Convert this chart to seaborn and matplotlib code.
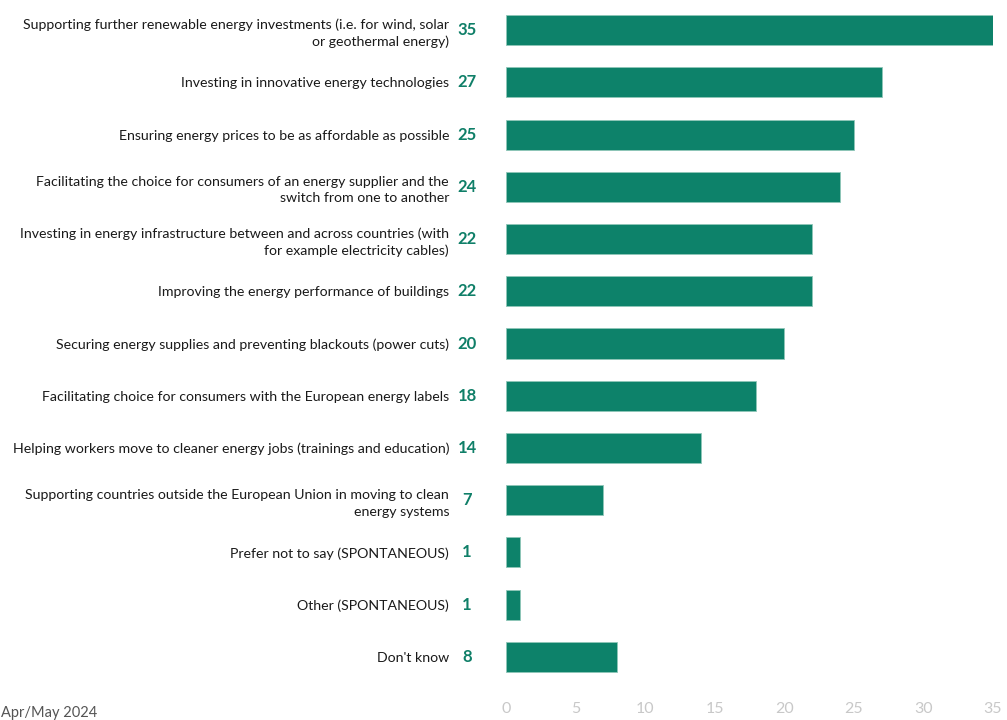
import matplotlib
matplotlib.use("Agg")
import matplotlib.pyplot as plt
import matplotlib.transforms as mtransforms
import seaborn as sns
import pandas as pd

categories = [
    "Supporting further renewable energy investments (i.e. for wind, solar\nor geothermal energy)",
    "Investing in innovative energy technologies",
    "Ensuring energy prices to be as affordable as possible",
    "Facilitating the choice for consumers of an energy supplier and the\nswitch from one to another",
    "Investing in energy infrastructure between and across countries (with\nfor example electricity cables)",
    "Improving the energy performance of buildings",
    "Securing energy supplies and preventing blackouts (power cuts)",
    "Facilitating choice for consumers with the European energy labels",
    "Helping workers move to cleaner energy jobs (trainings and education)",
    "Supporting countries outside the European Union in moving to clean\nenergy systems",
    "Prefer not to say (SPONTANEOUS)",
    "Other (SPONTANEOUS)",
    "Don't know",
]
values = [35, 27, 25, 24, 22, 22, 20, 18, 14, 7, 1, 1, 8]
x_ticks = [0, 5, 10, 15, 20, 25, 30, 35]
footnote = "Apr/May 2024"

BAR = "#0d826a"
VAL = "#0f7f68"

sns.set_theme(style="white")
plt.rcParams["font.family"] = ["Lato", "DejaVu Sans"]

df = pd.DataFrame({"label": categories, "value": values})

fig = plt.figure(figsize=(10.07, 7.2), dpi=100)
ax = fig.add_axes([0.5025, 0.0514, 0.4836, 0.943])

sns.barplot(data=df, x="value", y="label", orient="h", color=BAR,
            saturation=1, width=0.575, ax=ax, edgecolor="#8fc7b8", linewidth=0.6)

ax.set_xlim(0, 35)
ax.set_ylim(len(categories) - 0.5, -0.5)
ax.set_xticks(x_ticks)
ax.set_xlabel("")
ax.set_ylabel("")
ax.tick_params(axis="x", length=0, pad=14, labelsize=11.5, labelcolor="#c8c8c8")
ax.tick_params(axis="y", length=0, pad=41, labelsize=10.2, labelcolor="#1a1a1a")
for lbl in ax.get_yticklabels():
    lbl.set_horizontalalignment("right")
    lbl.set_multialignment("right")
    lbl.set_linespacing(1.45)
for s in ax.spines.values():
    s.set_visible(False)

trans = mtransforms.blended_transform_factory(ax.transAxes, ax.transData)
for i, v in enumerate(values):
    ax.text(-0.08, i, f"{v}", transform=trans, ha="center", va="center",
            fontsize=12, fontweight="bold", color=VAL)

fig.text(0.001, 0.01, footnote, ha="left", va="center", fontsize=10.5, color="#555555")

fig.savefig("out.png", dpi=100)
